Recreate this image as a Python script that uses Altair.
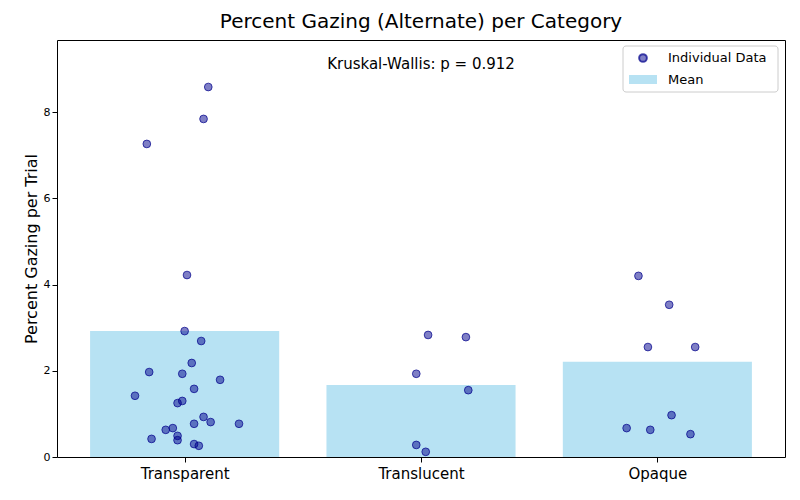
import altair as alt
import pandas as pd

categories = ["Transparent", "Translucent", "Opaque"]
means = [2.92, 1.67, 2.21]

# jittered individual points: category index + offset, value
pt_cat = [0] * 25 + [1] * 6 + [2] * 8
pt_jit = [0.10, 0.08, -0.16, 0.01, 0.00, 0.07, 0.03, -0.15, -0.01, 0.15, 0.04, -0.21,
          -0.01, -0.03, 0.08, 0.11, 0.04, 0.23, -0.05, -0.08, -0.03, -0.14, -0.03, 0.04, 0.06,
          0.03, 0.19, -0.02, 0.20, -0.02, 0.02,
          -0.08, 0.05, -0.04, 0.16, 0.06, -0.13, -0.03, 0.14]
pt_val = [8.58, 7.84, 7.26, 4.22, 2.92, 2.69, 2.18, 1.97, 1.93, 1.79, 1.58, 1.42,
          1.30, 1.25, 0.93, 0.81, 0.77, 0.77, 0.67, 0.63, 0.49, 0.42, 0.39, 0.30, 0.26,
          2.83, 2.78, 1.93, 1.55, 0.28, 0.12,
          4.20, 3.53, 2.55, 2.55, 0.97, 0.67, 0.63, 0.53]

bars = pd.DataFrame({"x": [0, 1, 2], "x1": [-0.4, 0.6, 1.6], "x2": [0.4, 1.4, 2.4], "mean": means})
pts = pd.DataFrame({"x": [c + j for c, j in zip(pt_cat, pt_jit)], "v": pt_val})

xs = alt.Scale(domain=[-0.54, 2.54], nice=False, zero=False)
ys = alt.Scale(domain=[0, 9.67], nice=False)
label_expr = "datum.value == 0 ? 'Transparent' : datum.value == 1 ? 'Translucent' : 'Opaque'"

bar = alt.Chart(bars).mark_rect(color="#87CEEB", opacity=0.6).encode(
    x=alt.X("x1:Q", scale=xs, title=None,
            axis=alt.Axis(values=[0, 1, 2], labelExpr=label_expr, labelFontSize=15,
                          labelColor="black", grid=False, tickColor="black", domain=False,
                          labelPadding=4)),
    x2="x2:Q",
    y=alt.Y("mean:Q", scale=ys, title="Percent Gazing per Trial",
            axis=alt.Axis(values=[0, 2, 4, 6, 8], grid=False, titleFontSize=16,
                          titleFontWeight="normal", labelFontSize=11, labelColor="black",
                          tickColor="black", domain=False, titleColor="black")),
    y2=alt.datum(0),
)

dots = alt.Chart(pts).mark_circle(size=60, fill="#00008B", fillOpacity=0.5,
                                  stroke="#00008B", strokeOpacity=0.7, strokeWidth=1).encode(
    x=alt.X("x:Q", scale=xs), y=alt.Y("v:Q", scale=ys))

txt = alt.Chart(pd.DataFrame({"t": ["Kruskal-Wallis: p = 0.912"]})).mark_text(
    fontSize=15, baseline="middle").encode(
    x=alt.value(364), y=alt.value(24), text="t:N")

leg_box = alt.Chart(pd.DataFrame({"a": [0]})).mark_rect(
    fill="white", stroke="#cccccc", cornerRadius=3).encode(
    x=alt.value(566), x2=alt.value(721), y=alt.value(6), y2=alt.value(52))
leg_pt = alt.Chart(pd.DataFrame({"a": [0]})).mark_circle(
    size=60, fill="#00008B", fillOpacity=0.5, stroke="#00008B", strokeOpacity=0.7).encode(
    x=alt.value(586), y=alt.value(18))
leg_sq = alt.Chart(pd.DataFrame({"a": [0]})).mark_rect(
    color="#87CEEB", opacity=0.6).encode(
    x=alt.value(572), x2=alt.value(600), y=alt.value(35), y2=alt.value(44))
leg_txt = alt.Chart(pd.DataFrame({"t": ["Individual Data", "Mean"], "y": [18, 40]})).mark_text(
    align="left", fontSize=13, baseline="middle").encode(
    x=alt.value(611), y=alt.Y("y:Q", scale=None), text="t:N")

chart = alt.layer(bar, dots, txt, leg_box, leg_pt, leg_sq, leg_txt).properties(
    width=728, height=417,
    autosize="none",
    padding={"left": 49, "top": 32, "right": 7, "bottom": 35},
    title=alt.TitleParams("Percent Gazing (Alternate) per Category", fontSize=20,
                          fontWeight="normal", offset=8, color="black"),
).configure(font="DejaVu Sans").configure_view(stroke="black", strokeWidth=1)

chart.save("out.html", embed_options={"renderer": "svg", "actions": False})
